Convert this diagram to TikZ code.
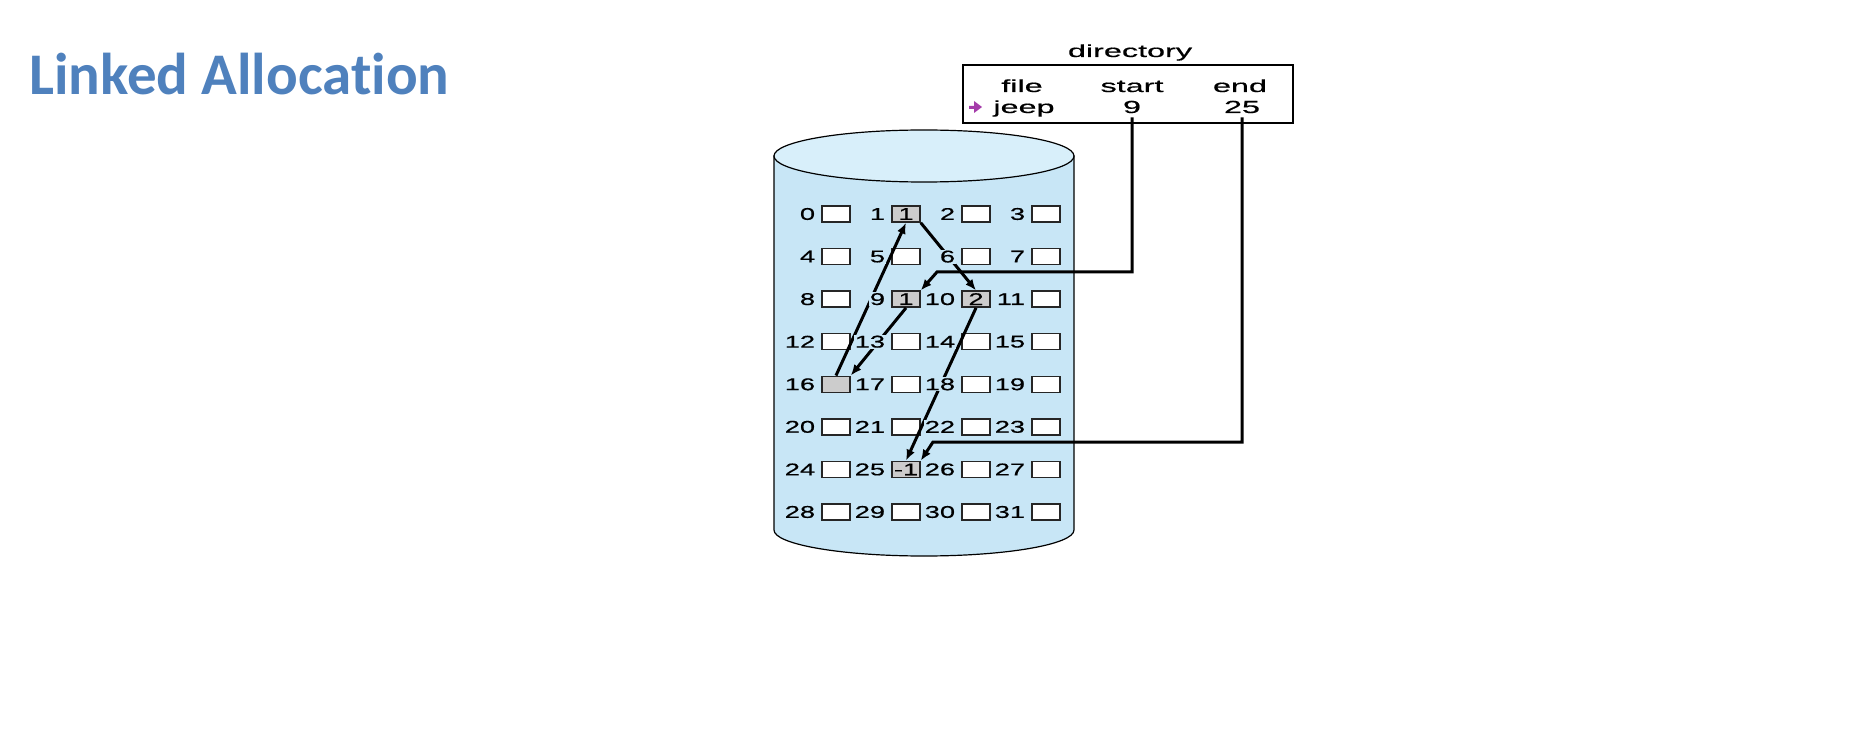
\documentclass[tikz,border=0pt]{standalone}
\usepackage{fontspec}
\setmainfont{Liberation Sans}
\newfontfamily\titlefont[Ligatures=NoCommon]{Carlito}
\newfontfamily\dirfont[FakeStretch=1.85, FakeBold=0.6]{Liberation Sans}
\newfontfamily\gridfont[FakeStretch=1.6, FakeBold=0.6]{Liberation Sans}
\usepackage{tikz}
\usetikzlibrary{positioning, arrows.meta, calc}
\definecolor{titleblue}{RGB}{79,129,189}
\definecolor{diskblue}{RGB}{200,230,246}
\definecolor{disktop}{RGB}{216,239,250}
\definecolor{usedgray}{RGB}{204,204,204}
\definecolor{iconpurple}{RGB}{165,60,170}
\tikzset{
	block/.style={draw=black!85, line width=1.5pt, fill=white, minimum width=28pt, minimum height=16pt, inner sep=0pt, font=\gridfont\fontsize{17}{17}\selectfont},
	usedblock/.style={block, fill=usedgray},
	blocklabel/.style={fill=diskblue, inner sep=1pt, font=\gridfont\fontsize{17}{17}\selectfont},
	link/.style={line width=3pt, -{Latex[length=11pt,width=9pt]}},
	dirtext/.style={font=\dirfont\fontsize{17.5}{17.5}\selectfont, inner sep=0pt, anchor=base}
}
\begin{document}
\begin{tikzpicture}[x=1pt, y=-1pt]
	\useasboundingbox (0,0) rectangle (1850,743);
	\node[anchor=base west, inner sep=0pt, text=titleblue, font=\titlefont\bfseries\fontsize{59}{59}\selectfont] (title) at (29,95) {Linked Allocation};

	% disk
	\draw[line width=1.2pt, fill=diskblue] (774,156) -- (774,530) arc[start angle=180, end angle=0, x radius=150, y radius=26] -- (1074,156) -- cycle;
	\draw[line width=1.2pt, fill=disktop] (924,156) ellipse[x radius=150, y radius=26];

	% blocks
	\foreach \n in {0,...,31}{
		\pgfmathtruncatemacro{\col}{mod(\n,4)}
		\pgfmathtruncatemacro{\row}{div(\n,4)}
		\node[block] (b\n) at (836+70*\col, 214+42.57*\row) {};
	}
	\node[usedblock] (b1) at (b1) {1};
	\node[usedblock] (b9) at (b9) {1};
	\node[usedblock] (b10) at (b10) {2};
	\node[usedblock] (b16) at (b16) {};
	\node[usedblock] (b25) at (b25) {-1};

	% chain of jeep
	\draw[link] (b9.south) -- (b16.north east);
	\draw[link] (b16.north) -- (b1.south);
	\draw[link] (b1.south east) -- (b10.north);
	\draw[link] (b10.south) -- (b25.north);

	\foreach \n in {0,...,31}
		\node[blocklabel, anchor=east, xshift=-5pt] (l\n) at (b\n.west) {\n};

	% directory
	\node[dirtext] (dirtitle) at (1130,57) {directory};
	\node[draw, line width=2.5pt, minimum width=330pt, minimum height=58pt, inner sep=0pt] (dir) at (1128,94) {};
	\node[dirtext] (filehead) at (1022,92) {file};
	\node[dirtext] (starthead) at (1132,92) {start};
	\node[dirtext] (endhead) at (1240,92) {end};
	\node[dirtext] (jeep) at (1024,113) {jeep};
	\node[dirtext] (nine) at (1132,113) {9};
	\node[dirtext] (twentyfive) at (1242,113) {25};
	\fill[iconpurple] (969,106) -- (974,106) -- (974,101) -- (982,107) -- (974,113) -- (974,109) -- (969,109) -- cycle;

	\coordinate (startbend) at (937,272);
	\coordinate (endbend) at (933,442);
	\draw[link, shorten <=4pt] (nine.south) |- (startbend) -- (b9.north east);
	\draw[link, shorten <=4pt] (twentyfive.south) |- (endbend) -- (b25.north east);
\end{tikzpicture}
\end{document}
